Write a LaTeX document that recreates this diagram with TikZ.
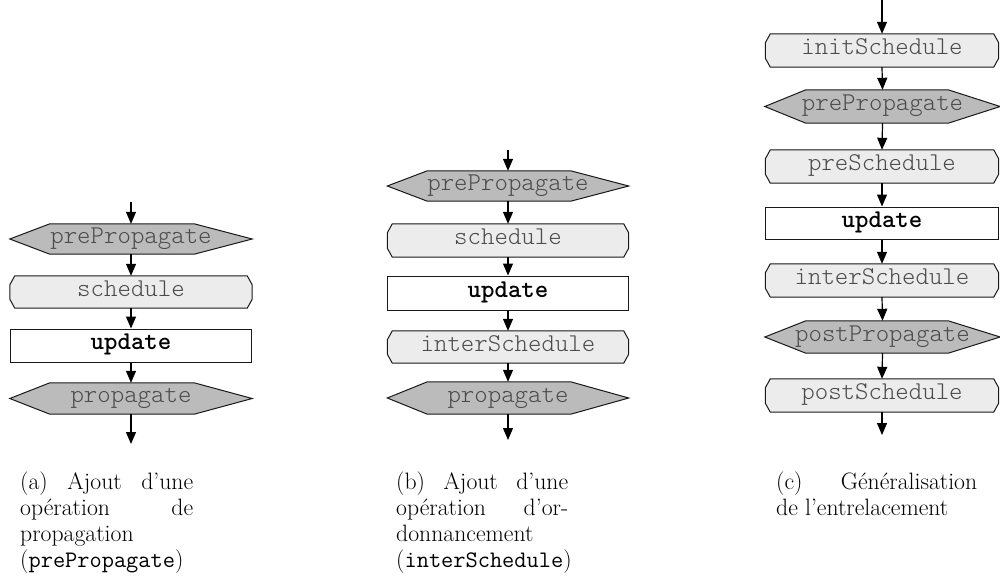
\documentclass[tikz,border=0pt]{standalone}
\usepackage{fontspec}
\newfontfamily\boxfont{Latin Modern Mono Light}
\usetikzlibrary{arrows.meta}
\pgfdeclarelayer{bg}
\pgfsetlayers{bg,main}
\definecolor{hexgray}{RGB}{187,187,187}
\definecolor{schgray}{RGB}{236,236,236}
\definecolor{txtgray}{RGB}{75,75,75}
\definecolor{edgecol}{RGB}{25,25,25}
\newcommand\capttt[1]{{\ttfamily #1}}
\tikzset{
  lbl/.style={inner sep=0pt, text height=12pt, text depth=4pt,
    font=\boxfont\fontsize{25.6}{28}\selectfont, text=txtgray},
  hexlbl/.style={lbl, minimum height=31pt},
  schlbl/.style={lbl, minimum height=33pt},
  updbox/.style={lbl, minimum height=33pt, draw=edgecol, line width=1pt, fill=white,
    text=black, font=\boxfont\bfseries\fontsize{25.6}{28}\selectfont},
  outline/.style={draw=edgecol, line width=1pt},
  flow/.style={draw=black, line width=1.2pt, -{Triangle[length=12pt,width=10pt]}},
  capt/.style={anchor=base west, inner sep=0pt, font=\fontsize{23.7}{26.3}\selectfont}
}
\newcommand\hexshape[3]{%
  \begin{pgfonlayer}{bg}
  \draw[outline, fill=hexgray] (#1.west) -- ([xshift=#2pt]#1.north west) -- ([xshift=-#3pt]#1.north east) -- (#1.east) -- ([xshift=-#3pt]#1.south east) -- ([xshift=#2pt]#1.south west) -- cycle;
  \end{pgfonlayer}}
\newcommand\chamshape[1]{%
  \begin{pgfonlayer}{bg}
  \draw[outline, fill=schgray] ([xshift=5pt]#1.north west) -- ([xshift=-5pt]#1.north east) -- ([yshift=-9pt]#1.north east) -- ([yshift=9pt]#1.south east) -- ([xshift=-5pt]#1.south east) -- ([xshift=5pt]#1.south west) -- ([yshift=9pt]#1.south west) -- ([yshift=-9pt]#1.north west) -- cycle;
  \end{pgfonlayer}}
\begin{document}
\begin{tikzpicture}[x=1pt,y=-1pt]
\useasboundingbox (0,0) rectangle (1000,579);
% ---------- (a)
\coordinate (a0) at (131,202);
\node[hexlbl, minimum width=242pt, minimum height=30pt] (a1) at (131,239) {prePropagate};
\node[schlbl, minimum width=242pt, minimum height=32pt] (a2) at (131,292) {schedule};
\node[updbox, minimum width=241pt] (a3) at (131,345.5) {update};
\node[hexlbl, minimum width=242pt] (a4) at (131,398.5) {propagate};
\coordinate (a5) at (131,444);
\hexshape{a1}{40}{58}
\chamshape{a2}
\hexshape{a4}{40}{58}
\draw[flow] (a0) -- (a1.north);
\draw[flow] (a1.south) -- (a2.north);
\draw[flow] (a2.south) -- (a3.north);
\draw[flow] (a3.south) -- (a4.north);
\draw[flow] (a4.south) -- (a5);
% ---------- (b)
\coordinate (b0) at (508,150);
\node[hexlbl, minimum width=241pt, minimum height=30pt] (b1) at (508,186) {prePropagate};
\node[schlbl, minimum width=241pt] (b2) at (508,240.5) {schedule};
\node[updbox, minimum width=241pt, minimum height=34pt] (b3) at (508,293) {update};
\node[schlbl, minimum width=241pt, minimum height=32pt] (b4) at (508,347) {interSchedule};
\node[hexlbl, minimum width=241pt, minimum height=32pt] (b5) at (508,398) {propagate};
\coordinate (b6) at (508,440);
\hexshape{b1}{40}{58}
\chamshape{b2}
\chamshape{b4}
\hexshape{b5}{40}{58}
\draw[flow] (b0) -- (b1.north);
\draw[flow] (b1.south) -- (b2.north);
\draw[flow] (b2.south) -- (b3.north);
\draw[flow] (b3.south) -- (b4.north);
\draw[flow] (b4.south) -- (b5.north);
\draw[flow] (b5.south) -- (b6);
% ---------- (c)
\coordinate (c0) at (882,0);
\node[schlbl, minimum width=233pt] (c1) at (882,50.5) {initSchedule};
\node[hexlbl, minimum width=235pt, minimum height=33pt] (c2) at (882.5,106.5) {prePropagate};
\node[schlbl, minimum width=233pt] (c3) at (882,166.5) {preSchedule};
\node[updbox, minimum width=233pt, minimum height=32pt] (c4) at (882,223) {update};
\node[schlbl, minimum width=233pt] (c5) at (882,280.5) {interSchedule};
\node[hexlbl, minimum width=235pt, minimum height=32pt] (c6) at (882.5,337) {postPropagate};
\node[schlbl, minimum width=233pt] (c7) at (882,395.5) {postSchedule};
\coordinate (c8) at (882,435);
\chamshape{c1}
\hexshape{c2}{41}{52}
\chamshape{c3}
\chamshape{c5}
\hexshape{c6}{41}{52}
\chamshape{c7}
\draw[flow] (c0) -- (c1.north);
\draw[flow] (c1.south) -- (c2.north);
\draw[flow] (c2.south) -- (c3.north);
\draw[flow] (c3.south) -- (c4.north);
\draw[flow] (c4.south) -- (c5.north);
\draw[flow] (c5.south) -- (c6.north);
\draw[flow] (c6.south) -- (c7.north);
\draw[flow] (c7.south) -- (c8);
% ---------- captions
\node[capt] (capa) at (20,489) {\parbox[t]{173pt}{(a)\hfill Ajout\hfill d’une\\ opération\hfill de\\ propagation\\ (\capttt{prePropagate})}};
\node[capt] (capb) at (396,489) {\parbox[t]{172pt}{(b)\hfill Ajout\hfill d’une\\ opération\hfill d’or-\\ donnancement\\ (\capttt{interSchedule})}};
\node[capt] (capc) at (776,489) {\parbox[t]{201pt}{(c)\hfill Généralisation\\ de l’entrelacement}};
\end{tikzpicture}
\end{document}
